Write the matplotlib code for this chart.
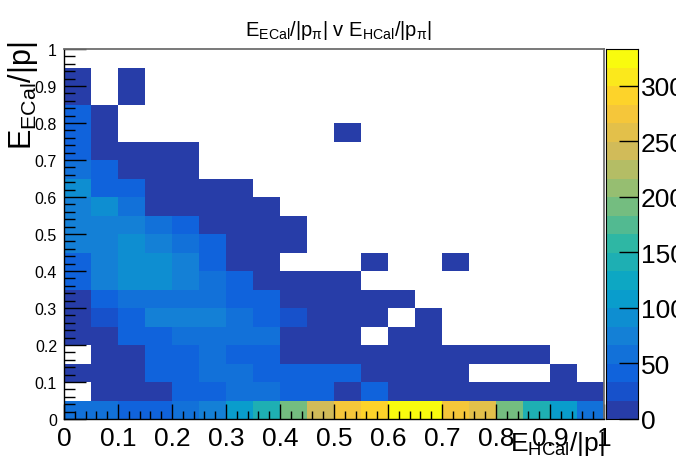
import numpy as np
import matplotlib
matplotlib.use("Agg")
import matplotlib.pyplot as plt
from matplotlib.colors import LinearSegmentedColormap, ListedColormap, BoundaryNorm
from matplotlib.ticker import MultipleLocator, FuncFormatter

plt.rcParams['font.family'] = ['Liberation Sans', 'DejaVu Sans']
plt.rcParams['mathtext.fontset'] = 'custom'
plt.rcParams['mathtext.rm'] = 'Liberation Sans'
plt.rcParams['mathtext.it'] = 'Liberation Sans'
plt.rcParams['mathtext.bf'] = 'Liberation Sans:bold'

# 20 x 20 bins over [0,1] x [0,1]
x_edges = np.linspace(0.0, 1.0, 21)
y_edges = np.linspace(0.0, 1.0, 21)

# bin contents, top row (E_ECal/|p| = 0.95-1.0) first
counts_rows = [
    [0] * 20,
    [4, 0, 2] + [0] * 17,
    [6, 0, 3] + [0] * 17,
    [38, 9] + [0] * 18,
    [40, 12, 0, 0, 0, 0, 0, 0, 0, 0, 1, 0, 0, 0, 0, 0, 0, 0, 0, 0],
    [45, 14, 8, 5, 3] + [0] * 15,
    [62, 44, 12, 9, 4] + [0] * 15,
    [86, 40, 42, 15, 10, 6, 3] + [0] * 13,
    [72, 86, 60, 14, 12, 8, 5, 2] + [0] * 12,
    [70, 74, 76, 56, 38, 14, 9, 6, 2] + [0] * 11,
    [68, 76, 95, 72, 55, 40, 12, 7, 3] + [0] * 11,
    [36, 70, 94, 86, 72, 44, 12, 6, 0, 0, 0, 1, 0, 0, 1, 0, 0, 0, 0, 0],
    [34, 68, 88, 88, 70, 60, 42, 14, 8, 5, 2, 0, 0, 0, 0, 0, 0, 0, 0, 0],
    [12, 40, 62, 64, 60, 58, 38, 40, 14, 9, 6, 4, 2, 0, 0, 0, 0, 0, 0, 0],
    [10, 30, 48, 76, 74, 78, 62, 46, 22, 12, 7, 5, 0, 2, 0, 0, 0, 0, 0, 0],
    [6, 14, 42, 40, 58, 60, 58, 56, 15, 10, 6, 0, 3, 2, 0, 0, 0, 0, 0, 0],
    [0, 12, 14, 44, 46, 60, 44, 40, 14, 11, 8, 6, 5, 4, 3, 2, 2, 1, 0, 0],
    [8, 14, 15, 42, 44, 58, 56, 42, 44, 40, 40, 12, 8, 6, 4, 0, 0, 0, 2, 0],
    [0, 10, 12, 16, 42, 44, 50, 60, 44, 42, 14, 40, 12, 10, 8, 6, 5, 4, 3, 2],
    [58, 58, 46, 46, 60, 80, 108, 142, 191, 241, 275, 291, 325, 325, 275, 258, 191, 142, 108, 58],
]

z_max = 333
n_levels = 20
cbar_ticks = [0, 50, 100, 150, 200, 250, 300]

# ROOT kBird palette
stops = [0.0000, 0.1250, 0.2500, 0.3750, 0.5000, 0.6250, 0.7500, 0.8750, 1.0000]
red = [0.2082, 0.0592, 0.0780, 0.0232, 0.1802, 0.5301, 0.8186, 0.9956, 0.9764]
green = [0.1664, 0.3599, 0.5041, 0.6419, 0.7178, 0.7492, 0.7328, 0.7862, 0.9832]
blue = [0.5293, 0.8684, 0.8385, 0.7914, 0.6425, 0.4662, 0.3499, 0.1968, 0.0539]
bird = LinearSegmentedColormap.from_list(
    "bird", list(zip(stops, zip(red, green, blue))), N=255)

# one colour per contour level, picked the way TH2 COLZ does it
idx = [int((k + 0.99) * 255 / n_levels) for k in range(n_levels)]
cmap = ListedColormap([bird(min(i, 254) / 254) for i in idx])
cmap.set_bad("white")
norm = BoundaryNorm(np.linspace(0, z_max, n_levels + 1), n_levels)

counts = np.array(counts_rows[::-1], dtype=float)
counts = np.ma.masked_where(counts <= 0, counts)

fig = plt.figure(figsize=(6.76, 4.60), dpi=100)
ax = fig.add_axes([64 / 676, 40 / 460, 540 / 676, 370 / 460])
cax = fig.add_axes([606 / 676, 40 / 460, 32 / 676, 370 / 460])

ax.pcolormesh(x_edges, y_edges, counts, cmap=cmap, norm=norm)
ax.set_xlim(0, 1)
ax.set_ylim(0, 1)

ax.xaxis.set_major_locator(MultipleLocator(0.1))
ax.xaxis.set_minor_locator(MultipleLocator(0.02))
ax.yaxis.set_major_locator(MultipleLocator(0.1))
ax.yaxis.set_minor_locator(MultipleLocator(0.02))
fmt = FuncFormatter(lambda v, p: f"{round(v, 2):g}")
ax.xaxis.set_major_formatter(fmt)
ax.yaxis.set_major_formatter(fmt)
ax.tick_params(axis='x', which='major', direction='in', length=11, width=1,
               labelsize=19, pad=5, top=False)
ax.tick_params(axis='x', which='minor', direction='in', length=5.5, width=1, top=False)
ax.tick_params(axis='y', which='major', direction='in', length=16, width=1,
               labelsize=11.5, pad=5, right=False)
ax.tick_params(axis='y', which='minor', direction='in', length=8, width=1, right=False)
for s in ('top', 'right'):
    ax.spines[s].set_color('#6e6e6e')
    ax.spines[s].set_linewidth(1.3)
for s in ('left', 'bottom'):
    ax.spines[s].set_linewidth(1.0)

# palette axis
cb_y = np.linspace(0, z_max, n_levels + 1)
cax.pcolormesh([0, 1], cb_y, ((cb_y[:-1] + cb_y[1:]) / 2)[:, None],
               cmap=cmap, norm=norm)
cax.set_xlim(0, 1)
cax.set_ylim(0, z_max)
cax.set_xticks([])
cax.yaxis.tick_right()
cax.set_yticks(cbar_ticks)
cax.set_yticklabels([str(t) for t in cbar_ticks])
cax.tick_params(axis='y', direction='in', length=14, width=1, labelsize=19,
                pad=2, left=False)
for s in cax.spines.values():
    s.set_linewidth(0.8)

fig.text(0.5, 1 - 30 / 460,
         r"E$_{ECal}$/|p$_{\pi}$| v E$_{HCal}$/|p$_{\pi}$|",
         ha='center', va='center', fontsize=14.5)
fig.text(605 / 676, 2 / 460, r"E$_{HCal}$/|p|", ha='right', va='bottom',
         fontsize=19)
fig.text(23 / 676, 1 - 42 / 460, r"E$_{ECal}$/|p|", ha='center', va='top',
         rotation=90, fontsize=22)

fig.savefig("out.png", dpi=100)
